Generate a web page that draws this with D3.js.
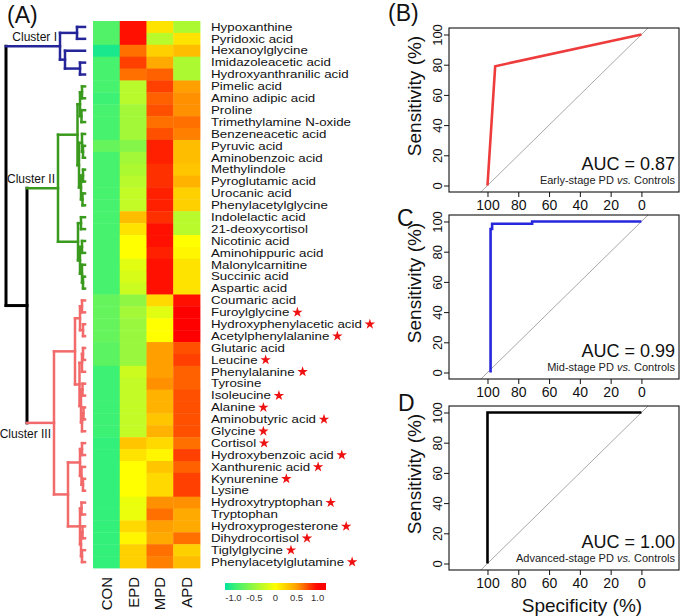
<!DOCTYPE html>
<html><head><meta charset="utf-8">
<script src="https://cdn.jsdelivr.net/npm/d3@7"></script>
<style>
body{margin:0;background:#fff;}
svg{display:block;font-family:"Liberation Sans",Arial,Helvetica,sans-serif;}
</style>
</head><body>
<svg id="c" width="685" height="616"></svg>
<script>
// ---------------- DATA ----------------
const metabolites = ["Hypoxanthine","Pyridoxic acid","Hexanoylglycine","Imidazoleacetic acid","Hydroxyanthranilic acid",
 "Pimelic acid","Amino adipic acid","Proline","Trimethylamine N-oxide","Benzeneacetic acid","Pyruvic acid",
 "Aminobenzoic acid","Methylindole","Pyroglutamic acid","Urocanic acid","Phenylacetylglycine","Indolelactic acid",
 "21-deoxycortisol","Nicotinic acid","Aminohippuric acid","Malonylcarnitine","Succinic acid","Aspartic acid",
 "Coumaric acid","Furoylglycine","Hydroxyphenylacetic acid","Acetylphenylalanine","Glutaric acid","Leucine",
 "Phenylalanine","Tyrosine","Isoleucine","Alanine","Aminobutyric acid","Glycine","Cortisol","Hydroxybenzoic acid",
 "Xanthurenic acid","Kynurenine","Lysine","Hydroxytryptophan","Tryptophan","Hydroxyprogesterone","Dihydrocortisol",
 "Tiglylglycine","Phenylacetylglutamine"];
const starred = [0,0,0,0,0, 0,0,0,0,0,0,0,0,0,0,0,0,0,0,0,0,0,0,
 0,1,1,1,0,1,1,0,1,1,1,1,1,1,1,1,0,1,0,1,1,1,1];
const groups = ["CON","EPD","MPD","APD"];
const valCON = [-0.85,-0.85,-1.1,-0.9,-0.9,-0.9,-0.95,-0.9,-0.9,-0.9,-0.75,-0.9,-0.9,-0.9,-0.9,-0.9,-0.9,-0.9,-0.9,-0.9,-0.9,-0.9,-0.9,
 -0.75,-0.75,-0.75,-0.75,-0.8,-0.8,-0.95,-0.95,-0.95,-0.95,-0.95,-0.95,-1.0,-1.0,-1.0,-1.0,-1.0,-1.0,-1.0,-1.0,-1.0,-1.0,-1.0];
const valEPD = [0.95,0.95,0.65,0.8,0.65,-0.35,-0.35,-0.45,-0.45,-0.45,-0.6,-0.45,-0.4,-0.35,-0.3,-0.3,0.35,0.15,0.0,0.0,-0.15,-0.2,-0.25,
 -0.55,-0.45,-0.5,-0.5,-0.5,-0.5,-0.25,-0.3,-0.3,-0.3,-0.3,-0.3,0.3,0.15,0.0,0.0,0.0,-0.1,-0.1,0.2,0.05,0.25,0.25];
const valMPD = [0.15,-0.35,0.25,0.45,0.7,0.8,0.7,0.75,0.65,0.75,0.9,0.9,0.85,0.85,0.9,0.9,0.85,0.95,0.95,0.9,0.95,0.95,0.95,
 0.2,-0.15,0.0,0.0,0.5,0.5,0.5,0.55,0.4,0.4,0.3,0.4,0.2,0.05,0.3,0.2,0.2,0.55,0.65,0.5,0.45,0.65,0.6];
const valAPD = [-0.4,0.15,0.35,-0.4,-0.4,0.5,0.55,0.55,0.65,0.6,0.35,0.35,0.3,0.4,0.25,0.25,-0.35,-0.35,0.0,0.05,0.15,0.15,0.15,
 0.95,1.0,1.0,1.0,0.75,0.8,0.7,0.7,0.75,0.75,0.75,0.75,0.65,0.8,0.7,0.8,0.8,0.55,0.45,0.45,0.65,0.25,0.35];
const legendTicks = [-1.0,-0.5,0,0.5,1.0];

// dendrogram: [height, left, right], leaves = row index
const dendro = [7.9,
  [2.5, [0.8,0,1], [2.0,2,[0.5,3,4]]],
  [5.8,
    [2.7,
      [0.75, [0.5,[0.3,5,6],[0.35,7,8]], [0.6,[0.3,9,[0.2,10,11]],[0.4,[0.2,12,13],[0.25,14,15]]]],
      [0.7, [0.4,16,17], [0.5,[0.3,18,19],[0.3,20,[0.2,21,22]]]]
    ],
    [3.1,
      [1.0, [0.5,[0.3,23,24],[0.2,25,26]], [0.55,[0.3,[0.2,27,28],29],[0.4,[0.25,30,31],[0.3,[0.15,32,33],34]]]],
      [1.7, [0.5,[0.3,35,36],[0.35,37,[0.2,38,39]]], [0.5,[0.35,40,41],[0.4,[0.25,42,43],[0.3,44,45]]]]
    ]
  ]
];
const clusterNames = ["Cluster I","Cluster II","Cluster III"];
const clusterColors = ["#25259A","#3A9A1E","#F26A6A"];

// ROC curves (specificity %, sensitivity %)
const rocB_spec = [100, 95, 0],  rocB_sens = [0, 79, 100];
const rocC_spec = [98, 98, 97, 97, 71, 71, 0], rocC_sens = [0, 95, 95, 98.5, 98.5, 100, 100];
const rocD_spec = [100, 100, 0], rocD_sens = [0, 100, 100];
const rocTicks = [0,20,40,60,80,100];

// ---------------- DRAW ----------------
const svg = d3.select("#c");

// heatmap
const hmX = d3.scaleBand().domain(groups).range([93, 200]);
const hmY = d3.scaleBand().domain(metabolites).range([21, 568]);
const color = d3.scaleLinear()
  .domain([-1.2,-1,0,0.5,1])
  .range(["#00E0A0","#33F07A","#FFFF00","#FFA000","#FF0000"]).clamp(true);
const cols = [valCON, valEPD, valMPD, valAPD];
const cells = [];
groups.forEach((g,gi)=>metabolites.forEach((m,mi)=>cells.push({g,m,v:cols[gi][mi]})));
svg.append("g").selectAll("rect").data(cells).join("rect")
  .attr("x",d=>hmX(d.g)).attr("y",d=>hmY(d.m))
  .attr("width",hmX.bandwidth()+0.4).attr("height",hmY.bandwidth()+0.4)
  .attr("fill",d=>color(d.v));

// row labels + stars (text horizontally stretched like the original)
const SX = 1.28;
const lab = svg.append("g").attr("font-size",10.4).attr("fill","#111");
metabolites.forEach((m,i)=>{
  const yc = hmY(m)+hmY.bandwidth()/2;
  const t = lab.append("text").attr("transform",`translate(211,${yc}) scale(${SX},1)`)
    .attr("dy","0.36em").text(m);
  if (starred[i]) {
    const w = t.node().getComputedTextLength()*SX;
    lab.append("path").attr("d",d3.symbol(d3.symbolStar).size(34)())
      .attr("transform",`translate(${211+w+8},${yc})`).attr("fill","#EE1111");
  }
});

// column labels
svg.append("g").selectAll("text").data(groups).join("text")
  .attr("transform",d=>`translate(${hmX(d)+hmX.bandwidth()/2},577) rotate(-90)`)
  .attr("text-anchor","end").attr("dy","0.36em").attr("font-size",15).attr("fill","#111").text(d=>d);

// legend
const lg = d3.scaleLinear().domain([-1.2,1.2]).range([225,326]);
const defs = svg.append("defs");
const grad = defs.append("linearGradient").attr("id","lgd");
d3.range(0,1.0001,0.05).forEach(o=>grad.append("stop").attr("offset",o).attr("stop-color",color(-1.2+2.4*o)));
svg.append("rect").attr("x",lg.range()[0]).attr("y",583).attr("width",lg.range()[1]-lg.range()[0]).attr("height",7).attr("fill","url(#lgd)");
svg.append("g").selectAll("text").data(legendTicks).join("text")
  .attr("x",d=>lg(d)).attr("y",601).attr("text-anchor","middle").attr("font-size",9.5).attr("fill","#333")
  .text(d=>d===0?"0":d3.format(".1f")(d).replace("\u2212","-"));

// dendrogram
const dx = d3.scaleLinear().domain([0,7.9]).range([85,6]);
const root = d3.hierarchy(dendro, d=>Array.isArray(d)?d.slice(1):null);
root.eachAfter(n=>{
  if (n.children){ n.h=n.data[0]; n.yy=d3.mean(n.children,c=>c.yy); }
  else { n.h=0; n.yy=hmY(metabolites[n.data])+hmY.bandwidth()/2; }
});
const clusterNodes=[root.children[0], root.children[1].children[0], root.children[1].children[1]];
root.col="#000"; root.children[1].col="#000";
clusterNodes.forEach((n,i)=>n.col=clusterColors[i]);
root.eachBefore(n=>{ if(!n.col) n.col=n.parent.col; });
const dg = svg.append("g").attr("fill","none").attr("stroke-linecap","square");
root.each(n=>{
  const w = n.col==="#000"?3:2.5;
  if (n.children){
    const ys=n.children.map(c=>c.yy);
    dg.append("line").attr("x1",dx(n.h)).attr("x2",dx(n.h)).attr("y1",d3.min(ys)).attr("y2",d3.max(ys))
      .attr("stroke",n.col).attr("stroke-width",w);
  }
  if (n.parent){
    dg.append("line").attr("x1",dx(n.parent.h)).attr("x2",dx(n.h)).attr("y1",n.yy).attr("y2",n.yy)
      .attr("stroke",n.col).attr("stroke-width",w);
  }
});
const clOff=[-5,-5,15];
clusterNodes.forEach((n,i)=>{
  svg.append("text").attr("x",dx(n.h)-3).attr("y",n.yy+clOff[i]).attr("text-anchor","end")
    .attr("font-size",12).attr("fill","#111").text(clusterNames[i]);
});
svg.append("text").attr("x",7).attr("y",23).attr("font-size",23).attr("fill","#111").text("(A)");

// ROC panels
const panels=[
  {letter:"(B)", lx:388, ly:21, spec:rocB_spec, sens:rocB_sens, col:"#EE3B3B", auc:"AUC = 0.87", sub:"Early-stage PD", top:28, xlab:false},
  {letter:"C", lx:397, ly:226, spec:rocC_spec, sens:rocC_sens, col:"#2626DD", auc:"AUC = 0.99", sub:"Mid-stage PD", top:215, xlab:false},
  {letter:"D", lx:398, ly:411, spec:rocD_spec, sens:rocD_sens, col:"#000000", auc:"AUC = 1.00", sub:"Advanced-stage PD", top:406, xlab:true}
];
const L=449, R=679, H=164;
panels.forEach((p,pi)=>{
  const g=svg.append("g");
  const x=d3.scaleLinear().domain([125,-24.4]).range([L,R]);
  const y=d3.scaleLinear().domain([-4.3,104.3]).range([p.top+H,p.top]);
  const cid="clip"+pi;
  defs.append("clipPath").attr("id",cid).append("rect").attr("x",L).attr("y",p.top).attr("width",R-L).attr("height",H);
  g.append("line").attr("clip-path",`url(#${cid})`)
    .attr("x1",x(125)).attr("y1",y(-25)).attr("x2",x(-24.4)).attr("y2",y(124.4))
    .attr("stroke","#A8A8A8").attr("stroke-width",1);
  const pts=p.spec.map((s,i)=>[s,p.sens[i]]);
  g.append("path").attr("d",d3.line().x(d=>x(d[0])).y(d=>y(d[1]))(pts))
    .attr("fill","none").attr("stroke",p.col).attr("stroke-width",2.6).attr("stroke-linejoin","miter");
  g.append("rect").attr("x",L).attr("y",p.top).attr("width",R-L).attr("height",H)
    .attr("fill","none").attr("stroke","#111").attr("stroke-width",1.1);
  // axes
  const ya=g.append("g").attr("transform",`translate(${L},0)`)
    .call(d3.axisLeft(y).tickValues(rocTicks).tickSize(5).tickFormat(d3.format("d")));
  ya.select(".domain").remove();
  ya.selectAll("line").attr("stroke","#111");
  ya.selectAll("text").attr("transform","rotate(-90)").attr("x",0).attr("y",-7).attr("dy",0)
    .attr("text-anchor","middle").attr("font-size",13).attr("fill","#111").attr("font-family",null);
  const xa=g.append("g").attr("transform",`translate(0,${p.top+H})`)
    .call(d3.axisBottom(x).tickValues(rocTicks.slice().reverse()).tickSize(5).tickFormat(d3.format("d")));
  xa.select(".domain").remove();
  xa.selectAll("line").attr("stroke","#111");
  xa.selectAll("text").attr("y",8).attr("font-size",14).attr("fill","#111").attr("font-family",null);
  // y label
  g.append("text").attr("transform",`translate(421,${p.top+H/2-14}) rotate(-90)`)
    .attr("text-anchor","middle").attr("font-size",19).attr("fill","#111").text("Sensitivity (%)");
  if (p.xlab) g.append("text").attr("x",582).attr("y",612).attr("text-anchor","middle")
    .attr("font-size",19).attr("fill","#111").text("Specificity (%)");
  g.append("text").attr("x",675).attr("y",p.top+H-22).attr("text-anchor","end")
    .attr("font-size",18).attr("fill","#111").text(p.auc);
  const st=g.append("text").attr("x",675).attr("y",p.top+H-8).attr("text-anchor","end")
    .attr("font-size",11).attr("fill","#222");
  st.append("tspan").text(p.sub+" ");
  st.append("tspan").attr("font-style","italic").text("vs.");
  st.append("tspan").text(" Controls");
  svg.append("text").attr("x",p.lx).attr("y",p.ly).attr("font-size",23).attr("fill","#111").text(p.letter);
});
</script>
</body></html>
